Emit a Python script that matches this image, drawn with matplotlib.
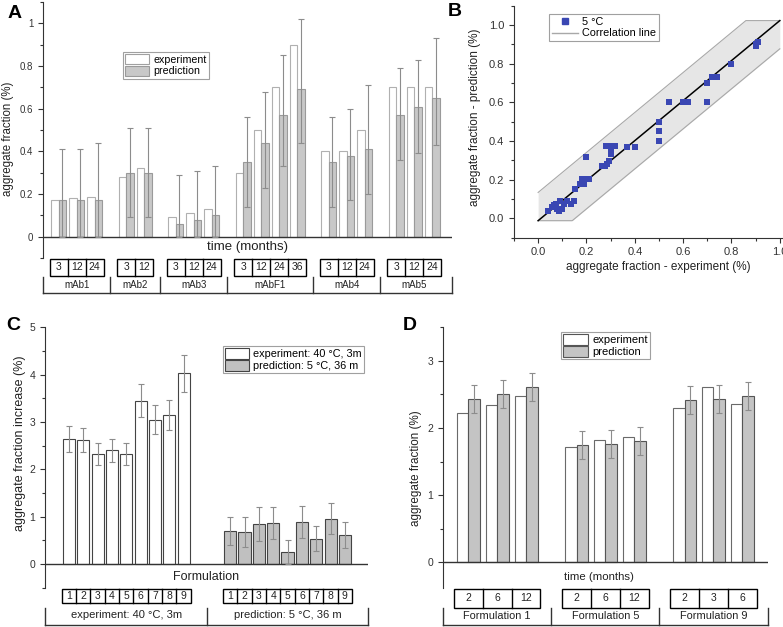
import numpy as np
import matplotlib
matplotlib.use("Agg")
import matplotlib.pyplot as plt
from matplotlib.patches import Rectangle, Patch
from matplotlib.lines import Line2D
from matplotlib.transforms import blended_transform_factory
from matplotlib.ticker import MultipleLocator, FuncFormatter

plt.rcParams['font.family'] = ['Liberation Sans', 'DejaVu Sans']

# ---- panel A: mAb stability, 5 C ----
A_GROUPS = ["mAb1", "mAb2", "mAb3", "mAbF1", "mAb4", "mAb5"]
A_TIMES = [[3, 12, 24], [3, 12], [3, 12, 24], [3, 12, 24, 36], [3, 12, 24], [3, 12, 24]]
A_EXP = [0.17, 0.18, 0.185, 0.28, 0.32, 0.09, 0.11, 0.13, 0.30, 0.50, 0.70, 0.90,
         0.40, 0.40, 0.50, 0.70, 0.70, 0.70]
A_PRED = [0.17, 0.17, 0.17, 0.30, 0.30, 0.06, 0.08, 0.10, 0.35, 0.44, 0.57, 0.69,
          0.35, 0.38, 0.41, 0.57, 0.61, 0.65]
A_ERR_UP = [0.24, 0.24, 0.27, 0.21, 0.21, 0.23, 0.23, 0.23, 0.21, 0.24, 0.28, 0.33,
            0.21, 0.22, 0.30, 0.22, 0.22, 0.28]
A_ERR_LO = [0.17, 0.17, 0.17, 0.21, 0.21, 0.06, 0.08, 0.10, 0.21, 0.21, 0.24, 0.25,
            0.21, 0.21, 0.21, 0.21, 0.22, 0.22]

# ---- panel B: prediction vs experiment ----
B_EXP = [0.04, 0.058, 0.079, 0.072, 0.092, 0.106, 0.12, 0.134, 0.147, 0.085, 0.10, 0.065,
         0.154, 0.175, 0.182, 0.196, 0.21, 0.189, 0.20, 0.265, 0.278, 0.285, 0.292, 0.30,
         0.30, 0.281, 0.292, 0.32, 0.368, 0.40, 0.50, 0.50, 0.50, 0.54, 0.60, 0.62, 0.70,
         0.70, 0.72, 0.73, 0.74, 0.80, 0.90, 0.91, 0.90]
B_PRED = [0.04, 0.057, 0.049, 0.074, 0.092, 0.074, 0.09, 0.074, 0.092, 0.04, 0.05, 0.07,
          0.152, 0.178, 0.204, 0.204, 0.204, 0.178, 0.316, 0.273, 0.273, 0.28, 0.298, 0.333,
          0.35, 0.373, 0.373, 0.373, 0.371, 0.367, 0.50, 0.45, 0.40, 0.60, 0.60, 0.60, 0.70,
          0.60, 0.73, 0.73, 0.73, 0.80, 0.90, 0.91, 0.89]
FIT_INTERCEPT, FIT_SLOPE, BAND_HALF = -0.012, 1.035, 0.146

# ---- panel C: formulations, 40 C 3m vs 5 C 36m ----
C_FORMS = [1, 2, 3, 4, 5, 6, 7, 8, 9]
C_GROUPS = ["experiment: 40 °C, 3m", "prediction: 5 °C, 36 m"]
C_EXP = [2.64, 2.62, 2.32, 2.40, 2.33, 3.45, 3.05, 3.15, 4.03]
C_EXP_ERR = [0.28, 0.26, 0.23, 0.245, 0.23, 0.35, 0.30, 0.32, 0.39]
C_PRED = [0.70, 0.675, 0.845, 0.865, 0.25, 0.885, 0.535, 0.955, 0.61]
C_PRED_ERR = [0.30, 0.31, 0.35, 0.33, 0.25, 0.34, 0.26, 0.33, 0.28]

# ---- panel D: formulations over time ----
D_GROUPS = ["Formulation 1", "Formulation 5", "Formulation 9"]
D_TIMES = [[2, 6, 12], [2, 6, 12], [2, 3, 6]]
D_EXP = [2.22, 2.345, 2.48, 1.71, 1.82, 1.86, 2.295, 2.61, 2.36]
D_PRED = [2.43, 2.50, 2.61, 1.75, 1.76, 1.81, 2.42, 2.43, 2.48]
D_PRED_ERR = [0.21, 0.21, 0.21, 0.21, 0.21, 0.21, 0.21, 0.21, 0.21]

BLUE = "#3a47b3"
ERR_C = "#8c8c8c"


def group_positions(sizes, gap):
    out, start = [], 0.0
    for n in sizes:
        out.append([start + i for i in range(n)])
        start += n + gap
    return out


def style_yaxis(ax, major, minor, fmt, fs):
    for s in ("top", "right", "bottom"):
        ax.spines[s].set_visible(False)
    ax.spines["left"].set_color("#333333")
    ax.yaxis.set_major_locator(MultipleLocator(major))
    ax.yaxis.set_minor_locator(MultipleLocator(minor))
    ax.yaxis.set_major_formatter(FuncFormatter(lambda v, p: fmt % v if abs(v) > 1e-9 else "0"))
    ax.tick_params(axis="y", which="major", direction="out", length=3.5, width=0.8,
                   labelsize=fs, colors="#333333")
    ax.tick_params(axis="y", which="minor", direction="out", length=2, width=0.8, colors="#333333")
    ax.set_xticks([])
    ax.axhline(0, color="#333333", lw=1.0)


def draw_table(ax, positions, cells, names, box_y, label_y, brk_y, fs_cell, fs_name):
    tr = blended_transform_factory(ax.transData, ax.transAxes)
    x0, x1 = ax.get_xlim()
    kw = dict(transform=tr, clip_on=False)
    edges = [x0]
    for i, (pos, cl, nm) in enumerate(zip(positions, cells, names)):
        left, right = pos[0] - 0.5, pos[-1] + 0.5
        ax.add_patch(Rectangle((left, box_y[1]), right - left, box_y[0] - box_y[1],
                               fill=False, ec="black", lw=1.0, **kw))
        for a, b in zip(pos[:-1], pos[1:]):
            ax.plot([(a + b) / 2] * 2, box_y, color="black", lw=1.0, **kw)
        for p, c in zip(pos, cl):
            ax.text(p, sum(box_y) / 2, str(c), ha="center", va="center",
                    fontsize=fs_cell, color="#222222", **kw)
        ax.text((left + right) / 2, label_y, nm, ha="center", va="center",
                fontsize=fs_name, color="#222222", **kw)
        if i < len(positions) - 1:
            edges.append((pos[-1] + positions[i + 1][0]) / 2)
    edges.append(x1)
    ax.plot([x0, x1], [brk_y[1]] * 2, color="#333333", lw=1.0, **kw)
    for e in edges:
        ax.plot([e, e], brk_y, color="#333333", lw=1.0, **kw)


def bar_legend(ax, labels, exp_ec, pred_fc, pred_ec, anchor, fs):
    handles = [Patch(facecolor="white", edgecolor=exp_ec, lw=0.8),
               Patch(facecolor=pred_fc, edgecolor=pred_ec, lw=0.8)]
    leg = ax.legend(handles, labels, loc="upper left", bbox_to_anchor=anchor, fontsize=fs,
                    fancybox=False, framealpha=1, edgecolor="#a0a0a0", borderpad=0.2,
                    labelspacing=0.1, handlelength=2.2, handleheight=1.1,
                    handletextpad=0.4, borderaxespad=0)
    leg.get_frame().set_linewidth(0.8)


fig = plt.figure(figsize=(7.83, 6.27), dpi=100)

# ---------------- A ----------------
axA = fig.add_axes([0.0549, 0.5885, 0.5224, 0.4083])
posA = group_positions([len(t) for t in A_TIMES], 0.75)
xA = np.array([p for g in posA for p in g])
w = 0.42
axA.bar(xA - w / 2, A_EXP, w, color="white", edgecolor="#b0b0b0", lw=0.8, zorder=2)
axA.bar(xA + w / 2, A_PRED, w, color="#c8c8c8", edgecolor="#9a9a9a", lw=0.8, zorder=2)
axA.errorbar(xA + w / 2, A_PRED, yerr=[A_ERR_LO, A_ERR_UP], fmt="none", ecolor=ERR_C,
             elinewidth=0.8, capsize=2.2, capthick=0.8, zorder=3)
axA.set_xlim(-0.87, 21.85)
axA.set_ylim(-0.1, 1.1)
style_yaxis(axA, 0.2, 0.1, "%g", 7)
axA.set_ylabel("aggregate fraction (%)", fontsize=8.3, color="#222222")
axA.yaxis.set_label_coords(-0.071, 0.465)
axA.text(0.5, 0.043, "time (months)", transform=axA.transAxes, ha="center", va="center",
         fontsize=9.5, color="#222222")
draw_table(axA, posA, A_TIMES, A_GROUPS, (-0.002, -0.070), -0.105, (-0.074, -0.137), 7.5, 7)
bar_legend(axA, ["experiment", "prediction"], "#a0a0a0", "#c8c8c8", "#9a9a9a",
           (0.196, 0.806), 7.7)

# ---------------- B ----------------
axB = fig.add_axes([0.6564, 0.6209, 0.3704, 0.370])
xs = np.linspace(0, 1.0, 400)
line = FIT_INTERCEPT + FIT_SLOPE * xs
y_up = np.minimum(line + BAND_HALF, line[-1])
y_lo = np.maximum(line - BAND_HALF, line[0])
axB.fill_between(xs, y_lo, y_up, color="#e6e6e6", lw=0, zorder=1)
axB.plot(xs, y_up, color="#a8a8a8", lw=0.8, zorder=2)
axB.plot(xs, y_lo, color="#a8a8a8", lw=0.8, zorder=2)
axB.plot(xs, line, color="black", lw=1.1, zorder=3)
axB.scatter(B_EXP, B_PRED, marker="s", s=24, color=BLUE, lw=0, zorder=4)
axB.set_xlim(-0.1, 1.1)
axB.set_ylim(-0.1, 1.1)
for s in ("top", "right"):
    axB.spines[s].set_visible(False)
for s in ("left", "bottom"):
    axB.spines[s].set_color("#333333")
for axis in (axB.xaxis, axB.yaxis):
    axis.set_major_locator(MultipleLocator(0.2))
    axis.set_minor_locator(MultipleLocator(0.1))
    axis.set_major_formatter(FuncFormatter(lambda v, p: "%.1f" % v))
axB.tick_params(which="major", direction="out", length=3.5, width=0.8, labelsize=8,
                colors="#333333")
axB.tick_params(which="minor", direction="out", length=2, width=0.8, colors="#333333")
axB.set_xlabel("aggregate fraction - experiment (%)", fontsize=8.5, color="#222222")
axB.set_ylabel("aggregate fraction - prediction (%)", fontsize=8.5, color="#222222")
axB.xaxis.set_label_coords(0.497, -0.10)
axB.yaxis.set_label_coords(-0.114, 0.52)
hB = [Line2D([], [], marker="s", ls="none", color=BLUE, ms=4.5),
      Line2D([], [], color="#a8a8a8", lw=1)]
legB = axB.legend(hB, ["5 °C", "Correlation line"], loc="upper left",
                  bbox_to_anchor=(0.121, 0.964), fontsize=7.8, fancybox=False,
                  framealpha=1, edgecolor="#a0a0a0", borderpad=0.25, labelspacing=0.15,
                  handlelength=2.4, handletextpad=0.4, borderaxespad=0)
legB.get_frame().set_linewidth(0.8)

# ---------------- C ----------------
axC = fig.add_axes([0.0575, 0.0627, 0.4125, 0.4153])
posC = group_positions([len(C_FORMS), len(C_FORMS)], 2.25)
wc = 0.85
axC.bar(posC[0], C_EXP, wc, color="white", edgecolor="#444444", lw=0.8, zorder=2)
axC.errorbar(posC[0], C_EXP, yerr=C_EXP_ERR, fmt="none", ecolor=ERR_C,
             elinewidth=0.8, capsize=2.5, capthick=0.8, zorder=3)
axC.bar(posC[1], C_PRED, wc, color="#c0c0c0", edgecolor="#444444", lw=0.8, zorder=2)
axC.errorbar(posC[1], C_PRED, yerr=C_PRED_ERR, fmt="none", ecolor=ERR_C,
             elinewidth=0.8, capsize=2.5, capthick=0.8, zorder=3)
axC.set_xlim(-1.67, 20.86)
axC.set_ylim(-0.5, 5.0)
style_yaxis(axC, 1, 0.5, "%g", 7.5)
axC.set_ylabel("aggregate fraction increase (%)", fontsize=9, color="#222222")
axC.yaxis.set_label_coords(-0.058, 0.555)
axC.text(0.5, 0.042, "Formulation", transform=axC.transAxes, ha="center", va="center",
         fontsize=9, color="#222222")
draw_table(axC, posC, [C_FORMS, C_FORMS], C_GROUPS, (-0.006, -0.060), -0.105,
           (-0.077, -0.143), 7.5, 8)
bar_legend(axC, ["experiment: 40 °C, 3m", "prediction: 5 °C, 36 m"], "#444444", "#c0c0c0",
           "#444444", (0.55, 0.928), 7.8)

# ---------------- D ----------------
axD = fig.add_axes([0.5654, 0.0627, 0.4158, 0.4153])
posD = group_positions([len(t) for t in D_TIMES], 0.75)
xD = np.array([p for g in posD for p in g])
wd = 0.4
axD.bar(xD - wd / 2, D_EXP, wd, color="white", edgecolor="#6a6a6a", lw=0.8, zorder=2)
axD.bar(xD + wd / 2, D_PRED, wd, color="#c4c4c4", edgecolor="#555555", lw=0.8, zorder=2)
axD.errorbar(xD + wd / 2, D_PRED, yerr=D_PRED_ERR, fmt="none", ecolor=ERR_C,
             elinewidth=0.8, capsize=2.5, capthick=0.8, zorder=3)
axD.set_xlim(-0.89, 10.4)
axD.set_ylim(-0.38, 3.5)
style_yaxis(axD, 1, 0.5, "%g", 7.5)
axD.set_ylabel("aggregate fraction (%)", fontsize=8.4, color="#222222")
axD.yaxis.set_label_coords(-0.064, 0.46)
axD.text(0.48, 0.042, "time (months)", transform=axD.transAxes, ha="center", va="center",
         fontsize=8.2, color="#222222")
draw_table(axD, posD, D_TIMES, D_GROUPS, (-0.006, -0.077), -0.108, (-0.077, -0.143), 7.5, 7.9)
bar_legend(axD, ["experiment", "prediction"], "#555555", "#c4c4c4", "#555555",
           (0.363, 0.983), 8)

# panel letters
for lab, x, y in (("A", 15, 13), ("B", 455, 12), ("C", 13, 325), ("D", 410, 325)):
    fig.text(x / 783, 1 - y / 627, lab, fontsize=14, fontweight="bold", ha="center",
             va="center", color="black")

fig.savefig("out.png", dpi=100)
